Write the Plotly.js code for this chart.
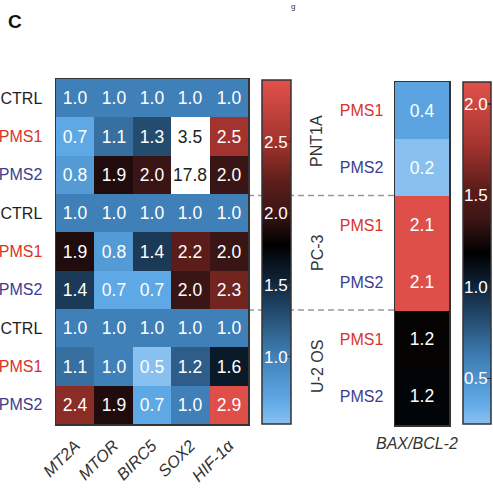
<!DOCTYPE html>
<html>
<head>
<meta charset="utf-8">
<script src="https://cdn.plot.ly/plotly-3.0.1.min.js"></script>
<style>html,body{margin:0;padding:0;background:#fff;}#chart{width:493px;height:488px;}</style>
</head>
<body>
<div id="chart"></div>
<script>
// ---------- data ----------
const genes = ['MT2A', 'MTOR', 'BIRC5', 'SOX2', 'HIF-1α'];
const rowConditions = ['CTRL', 'PMS1', 'PMS2', 'CTRL', 'PMS1', 'PMS2', 'CTRL', 'PMS1', 'PMS2'];
const cellLines = ['PNT1A', 'PC-3', 'U-2 OS'];
const geneValues = [
  [1.0, 1.0, 1.0, 1.0, 1.0],
  [0.7, 1.1, 1.3, 3.5, 2.5],
  [0.8, 1.9, 2.0, 17.8, 2.0],
  [1.0, 1.0, 1.0, 1.0, 1.0],
  [1.9, 0.8, 1.4, 2.2, 2.0],
  [1.4, 0.7, 0.7, 2.0, 2.3],
  [1.0, 1.0, 1.0, 1.0, 1.0],
  [1.1, 1.0, 0.5, 1.2, 1.6],
  [2.4, 1.9, 0.7, 1.0, 2.9]
];
const ratioConditions = ['PMS1', 'PMS2', 'PMS1', 'PMS2', 'PMS1', 'PMS2'];
const ratioValues = [0.4, 0.2, 2.1, 2.1, 1.2, 1.16];
const ratioLabel = 'BAX/BCL-2';
const geneTicks = [1.0, 1.5, 2.0, 2.5];
const ratioTicks = [0.5, 1.0, 1.5, 2.0];

// ---------- styling ----------
const W = 493, H = 488;
const px = x => x / W;
const py = y => 1 - y / H;
const FONT = 'Liberation Sans, Arial, Helvetica, sans-serif';
const condColor = {CTRL: '#1e1e1e', PMS1: '#d7352a', PMS2: '#3b3d8e'};
const CELL_FONT = 17.5;

function makeScale(b) {
  const lower = [[0, '#88c0ef'], [0.135, '#5ea8e6'], [0.385, '#3f7fb6'], [0.615, '#244c70'], [0.81, '#0f2236'], [1, '#000000']];
  const upper = [[0.19, '#3a1515'], [0.375, '#5c1d19'], [0.625, '#a3332e'], [1, '#e2514b']];
  return lower.map(s => [s[0] * b, s[1]]).concat(upper.map(s => [b + s[0] * (1 - b), s[1]]));
}

const gZmin = 0.53, gZmax = 2.93;
const rZmin = 0.25, rZmax = 2.12;

const zIn = geneValues.map(r => r.map(v => v > gZmax ? null : v));
const zOut = geneValues.map(r => r.map(v => v > gZmax ? v : null));

function cbar(xLeft, yTop, yBot, thick, ticks) {
  return {
    x: px(xLeft), xanchor: 'left', xref: 'paper',
    y: py(yTop), yanchor: 'top', yref: 'paper',
    len: (yBot - yTop) / H, lenmode: 'fraction',
    thickness: thick, thicknessmode: 'pixels',
    xpad: 0, ypad: 0,
    outlinewidth: 1.5, outlinecolor: '#333',
    ticks: 'inside', ticklen: 4, tickwidth: 1.2, tickcolor: '#333',
    ticklabelposition: 'inside',
    tickvals: ticks, tickformat: '.1f',
    tickfont: {family: FONT, size: 17, color: '#ffffff'}
  };
}

const traces = [
  {
    type: 'heatmap', z: zIn, xaxis: 'x', yaxis: 'y',
    zmin: gZmin, zmax: gZmax, colorscale: makeScale(0.52),
    texttemplate: '%{z:.1f}', textfont: {family: FONT, size: CELL_FONT, color: '#ffffff'},
    hoverinfo: 'skip',
    colorbar: cbar(262, 80, 424, 29, geneTicks)
  },
  {
    type: 'heatmap', z: zOut, xaxis: 'x', yaxis: 'y',
    colorscale: [[0, '#ffffff'], [1, '#ffffff']], showscale: false,
    texttemplate: '%{z:.1f}', textfont: {family: FONT, size: CELL_FONT, color: '#222222'},
    hoverinfo: 'skip'
  },
  {
    type: 'heatmap', z: ratioValues.map(v => [v]), xaxis: 'x2', yaxis: 'y2',
    zmin: rZmin, zmax: rZmax, colorscale: makeScale(0.5),
    texttemplate: '%{z:.1f}', textfont: {family: FONT, size: CELL_FONT, color: '#ffffff'},
    hoverinfo: 'skip',
    colorbar: cbar(463, 82, 424, 28, ratioTicks)
  }
];

const frame = {showline: true, mirror: true, linecolor: '#333', linewidth: 1.5, showgrid: false, zeroline: false, fixedrange: true};
const colored = c => '<span style="color:' + condColor[c] + '">' + c + '</span>';

const layout = {
  width: W, height: H,
  margin: {l: 0, r: 0, t: 0, b: 0, pad: 0},
  paper_bgcolor: '#ffffff', plot_bgcolor: '#ffffff',
  font: {family: FONT, size: 16, color: '#333'},
  showlegend: false,
  xaxis: Object.assign({}, frame, {
    domain: [px(56), px(248)], anchor: 'y', range: [-0.5, genes.length - 0.5],
    tickvals: genes.map((g, i) => i), ticktext: genes.map(g => '<i>' + g + '</i>'),
    tickangle: -45, ticks: 'outside', ticklen: 4, tickcolor: 'rgba(0,0,0,0)',
    tickfont: {family: FONT, size: 16.5, color: '#333'}
  }),
  yaxis: Object.assign({}, frame, {
    domain: [py(424), py(79)], anchor: 'x', range: [rowConditions.length - 0.5, -0.5],
    tickvals: rowConditions.map((c, i) => i), ticktext: rowConditions.map(colored),
    ticks: 'outside', ticklen: 9, tickcolor: 'rgba(0,0,0,0)',
    tickfont: {family: FONT, size: 16}
  }),
  xaxis2: Object.assign({}, frame, {
    domain: [px(395), px(449)], anchor: 'y2', range: [-0.5, 0.5],
    showticklabels: false, ticks: ''
  }),
  yaxis2: Object.assign({}, frame, {
    domain: [py(425), py(82)], anchor: 'x2', range: [ratioConditions.length - 0.5, -0.5],
    tickvals: ratioConditions.map((c, i) => i), ticktext: ratioConditions.map(colored),
    ticks: 'outside', ticklen: 7, tickcolor: 'rgba(0,0,0,0)',
    tickfont: {family: FONT, size: 16}
  }),
  shapes: [195.5, 310].map(y => ({
    type: 'line', xref: 'paper', yref: 'paper', layer: 'below',
    x0: px(248), x1: px(395), y0: py(y), y1: py(y),
    line: {color: '#999', width: 1.5, dash: '6px,4px'}
  })),
  annotations: [
    {text: '<b>C</b>', x: px(6), y: py(21), xref: 'paper', yref: 'paper', xanchor: 'left', yanchor: 'middle', showarrow: false, font: {family: FONT, size: 19, color: '#111'}},
    {text: 'g', x: px(293), y: py(0), xref: 'paper', yref: 'paper', xanchor: 'center', yanchor: 'top', showarrow: false, font: {family: FONT, size: 8, color: '#333'}},
    {text: '<i>' + ratioLabel + '</i>', x: px(417), y: py(443), xref: 'paper', yref: 'paper', xanchor: 'center', yanchor: 'middle', showarrow: false, font: {family: FONT, size: 16, color: '#333'}}
  ].concat(cellLines.map((c, i) => ({
    text: c, textangle: -90, x: px(317), y: py([141, 253, 367][i]), xref: 'paper', yref: 'paper',
    xanchor: 'center', yanchor: 'middle', showarrow: false, font: {family: FONT, size: 16, color: '#333'}
  })))
};

Plotly.newPlot('chart', traces, layout, {staticPlot: true, displayModeBar: false});
</script>
</body>
</html>
